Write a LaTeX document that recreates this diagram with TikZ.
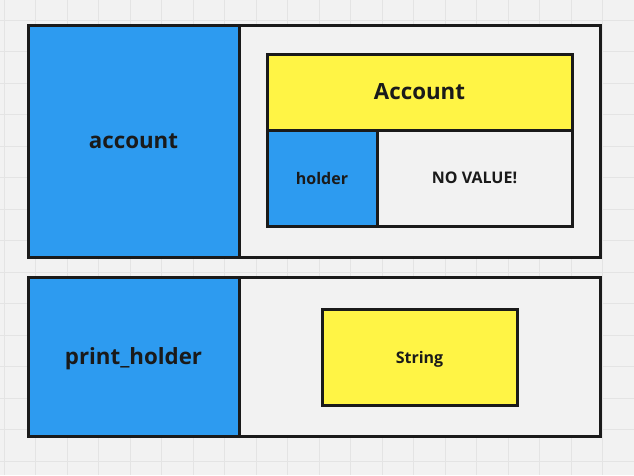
\documentclass[tikz,border=0pt]{standalone}
\usepackage{fontspec}
\setmainfont{Open Sans}
\definecolor{bg}{HTML}{F2F2F2}
\definecolor{gridc}{HTML}{E4E4E4}
\definecolor{boxblue}{HTML}{2D9BF0}
\definecolor{boxyellow}{HTML}{FFF445}
\definecolor{ink}{HTML}{1A1A1A}
\tikzset{
  cell/.style={rectangle, draw=ink, line width=3pt, anchor=north west, inner sep=0pt,
     outer sep=0pt, text=ink, font=\bfseries, text depth=0pt},
  bluecell/.style={cell, fill=boxblue},
  yellowcell/.style={cell, fill=boxyellow},
  plaincell/.style={cell, fill=bg},
  bigtext/.style={font=\bfseries\fontsize{22.3}{26}\selectfont},
  smalltext/.style={font=\bfseries\fontsize{16}{19}\selectfont},
}
\begin{document}
\begin{tikzpicture}[x=1pt,y=-1pt]
\useasboundingbox (0,0) rectangle (634,475);
\fill[bg] (0,0) rectangle (634,475);
\foreach \i in {0,...,20} {
  \draw[gridc, line width=1pt] ({4+31.5*\i},0) -- ({4+31.5*\i},475);
  \draw[gridc, line width=1pt] (0,{20+31.5*\i-31.5}) -- (634,{20+31.5*\i-31.5});
}
% top frame
\node[plaincell, minimum width=572pt, minimum height=232pt] (frameA) at (28,25) {};
\node[bluecell, minimum width=211pt, minimum height=232pt, bigtext] (account) at (28,25) {account};
\node[yellowcell, minimum width=305pt, minimum height=76pt, bigtext] (Account) at (267,54) {Account};
\node[bluecell, minimum width=110pt, minimum height=96pt, smalltext] (holder) at (267,130) {holder};
\node[plaincell, minimum width=195pt, minimum height=96pt, smalltext] (novalue) at (377,130) {NO VALUE!};
% bottom frame
\node[plaincell, minimum width=572pt, minimum height=159pt] (frameB) at (28,277) {};
\node[bluecell, minimum width=211pt, minimum height=159pt, bigtext] (printholder) at (28,277) {print\_holder};
\node[yellowcell, minimum width=195pt, minimum height=96pt, smalltext] (string) at (322,309) {String};
\end{tikzpicture}
\end{document}
